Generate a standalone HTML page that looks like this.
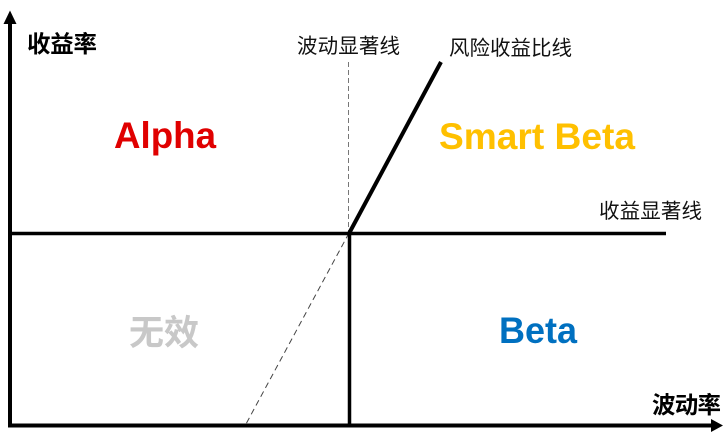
<!DOCTYPE html>
<html lang="zh">
<head>
<meta charset="utf-8">
<style>
html,body{margin:0;padding:0;background:#fff;width:723px;height:432px;overflow:hidden}
svg{display:block}
.cjk{font-family:"Liberation Sans","Noto Sans CJK SC",sans-serif}
.lat{font-family:"Liberation Sans","Noto Sans CJK SC",sans-serif;font-weight:700;font-size:37px}
</style>
</head>
<body>
<svg width="723" height="432" viewBox="0 0 723 432" xmlns="http://www.w3.org/2000/svg">
  <!-- dashed guides -->
  <line x1="348.5" y1="62" x2="348.5" y2="233" stroke="#777" stroke-width="1" stroke-dasharray="5 3"/>
  <line x1="349" y1="233" x2="246" y2="424" stroke="#444" stroke-width="1" stroke-dasharray="6 4"/>
  <!-- axes -->
  <polyline points="10,23 10,425.5 712,425.5" fill="none" stroke="#000" stroke-width="4"/>
  <polygon points="10,10.5 16.5,24 3.5,24" fill="#000"/>
  <polygon points="723,425.5 711,419 711,432" fill="#000"/>
  <!-- solid lines -->
  <line x1="10" y1="233.5" x2="666" y2="233.5" stroke="#000" stroke-width="3.5"/>
  <line x1="349.5" y1="233" x2="349.5" y2="425" stroke="#000" stroke-width="3.5"/>
  <line x1="349" y1="233.5" x2="441" y2="62" stroke="#000" stroke-width="4"/>
  <!-- axis labels -->
  <text class="cjk" x="27" y="52" font-size="23.5" font-weight="700" fill="#000" textLength="70">收益率</text>
  <text class="cjk" x="652" y="413" font-size="23.5" font-weight="700" fill="#000" textLength="69">波动率</text>
  <!-- line labels -->
  <text class="cjk" x="297" y="53" font-size="20.5" fill="#111" textLength="103">波动显著线</text>
  <text class="cjk" x="449" y="55" font-size="20.5" fill="#111" textLength="123">风险收益比线</text>
  <text class="cjk" x="599" y="218" font-size="20.5" fill="#111" textLength="103">收益显著线</text>
  <!-- quadrant labels -->
  <text class="lat" x="114" y="148" fill="#e00000" textLength="102" lengthAdjust="spacingAndGlyphs">Alpha</text>
  <text class="lat" x="439" y="149" fill="#ffc000" textLength="196" lengthAdjust="spacingAndGlyphs">Smart Beta</text>
  <text class="lat" x="499" y="343" fill="#0070c0" textLength="78" lengthAdjust="spacingAndGlyphs">Beta</text>
  <text class="cjk" x="129" y="345" font-size="35" font-weight="700" fill="#c8c8c8" textLength="70">无效</text>
</svg>
</body>
</html>
